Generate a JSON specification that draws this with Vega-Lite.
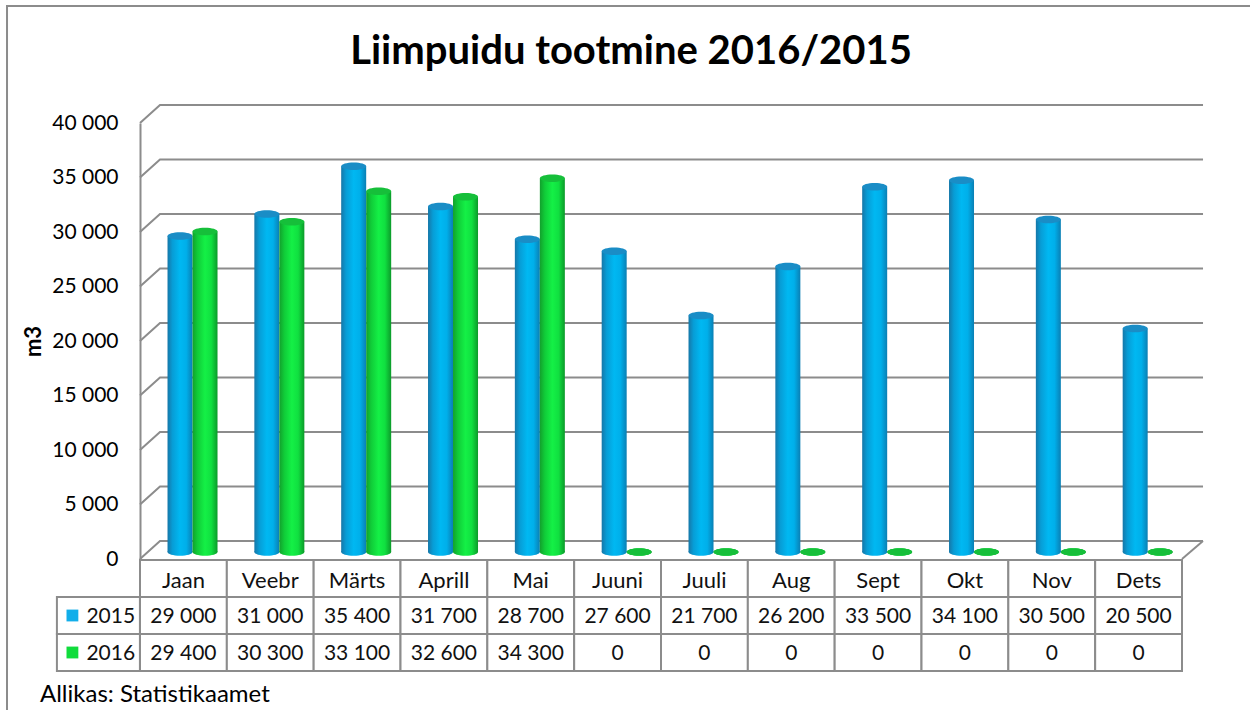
{
  "$schema": "https://vega.github.io/schema/vega-lite/v6.json",
  "autosize": {"type": "none"},
  "padding": {"left": 140, "top": 123, "right": 1110, "bottom": 587},
  "background": "white",
  "config": {
    "font": "Lato",
    "view": {"stroke": null}
  },
  "data": {
    "values": [
      {"month": "Jaan", "year": "2015", "value": 29000},
      {"month": "Veebr", "year": "2015", "value": 31000},
      {"month": "Märts", "year": "2015", "value": 35400},
      {"month": "Aprill", "year": "2015", "value": 31700},
      {"month": "Mai", "year": "2015", "value": 28700},
      {"month": "Juuni", "year": "2015", "value": 27600},
      {"month": "Juuli", "year": "2015", "value": 21700},
      {"month": "Aug", "year": "2015", "value": 26200},
      {"month": "Sept", "year": "2015", "value": 33500},
      {"month": "Okt", "year": "2015", "value": 34100},
      {"month": "Nov", "year": "2015", "value": 30500},
      {"month": "Dets", "year": "2015", "value": 20500},
      {"month": "Jaan", "year": "2016", "value": 29400},
      {"month": "Veebr", "year": "2016", "value": 30300},
      {"month": "Märts", "year": "2016", "value": 33100},
      {"month": "Aprill", "year": "2016", "value": 32600},
      {"month": "Mai", "year": "2016", "value": 34300},
      {"month": "Juuni", "year": "2016", "value": 0},
      {"month": "Juuli", "year": "2016", "value": 0},
      {"month": "Aug", "year": "2016", "value": 0},
      {"month": "Sept", "year": "2016", "value": 0},
      {"month": "Okt", "year": "2016", "value": 0},
      {"month": "Nov", "year": "2016", "value": 0},
      {"month": "Dets", "year": "2016", "value": 0}
    ]
  },
  "spacing": 1,
  "bounds": "flush",
  "vconcat": [
    {
      "width": 1042,
      "height": 436,
      "title": {
        "text": "Liimpuidu tootmine 2016/2015",
        "fontSize": 40,
        "fontWeight": "bold",
        "font": "Lato",
        "color": "#000000",
        "anchor": "middle",
        "frame": "group",
        "dx": -30,
        "offset": 29
      },
      "layer": [
        {
          "data": {"values": [{"g": 0}, {"g": 5000}, {"g": 10000}, {"g": 15000}, {"g": 20000}, {"g": 25000}, {"g": 30000}, {"g": 35000}, {"g": 40000}]},
          "transform": [{"calculate": "'Jaan'", "as": "m"}],
          "mark": {"type": "point", "shape": "M -43.42 0 L -23.42 -18 L 1019.6 -18", "size": 4, "filled": true, "fill": "transparent", "stroke": "#8c8c8c", "strokeWidth": 2, "opacity": 1},
          "encoding": {
            "x": {"field": "m", "type": "nominal", "axis": null},
            "y": {
              "field": "g",
              "type": "quantitative",
              "scale": {"domain": [0, 40000], "nice": false, "zero": true},
              "axis": {"title": "m3", "values": [0, 5000, 10000, 15000, 20000, 25000, 30000, 35000, 40000], "labelExpr": "replace(format(datum.value, ',d'), ',', ' ')", "grid": false, "ticks": false, "tickSize": 0, "domainColor": "#8c8c8c", "domainWidth": 2, "labelFont": "Lato", "labelFontSize": 21, "labelColor": "#000000", "labelPadding": 22, "titleFont": "Lato", "titleFontSize": 22, "titleFontWeight": "bold", "titleColor": "#000000", "titlePadding": 6}
            }
          }
        },
        {
          "data": {"values": [{"g": 0}]},
          "transform": [{"calculate": "'Dets'", "as": "m"}],
          "mark": {"type": "point", "shape": "M 43.42 0 L 64.4 -18", "size": 4, "filled": true, "fill": "transparent", "stroke": "#8c8c8c", "strokeWidth": 2, "opacity": 1},
          "encoding": {
            "x": {"field": "m", "type": "nominal", "axis": null},
            "y": {"field": "g", "type": "quantitative", "axis": {"title": "m3", "values": [0, 5000, 10000, 15000, 20000, 25000, 30000, 35000, 40000], "labelExpr": "replace(format(datum.value, ',d'), ',', ' ')", "grid": false, "ticks": false, "tickSize": 0, "domainColor": "#8c8c8c", "domainWidth": 2, "labelFont": "Lato", "labelFontSize": 21, "labelColor": "#000000", "labelPadding": 22, "titleFont": "Lato", "titleFontSize": 22, "titleFontWeight": "bold", "titleColor": "#000000", "titlePadding": 6}}
          }
        },
        {
          "data": {"values": [{"g": 0}]},
          "transform": [{"calculate": "'Jaan'", "as": "m"}],
          "mark": {"type": "point", "shape": "M -176.4 110 L -176.4 152", "size": 4, "filled": true, "fill": "transparent", "stroke": "#8c8c8c", "strokeWidth": 2, "opacity": 1},
          "encoding": {
            "x": {"field": "m", "type": "nominal", "axis": null},
            "y": {"field": "g", "type": "quantitative", "axis": {"title": "m3", "values": [0, 5000, 10000, 15000, 20000, 25000, 30000, 35000, 40000], "labelExpr": "replace(format(datum.value, ',d'), ',', ' ')", "grid": false, "ticks": false, "tickSize": 0, "domainColor": "#8c8c8c", "domainWidth": 2, "labelFont": "Lato", "labelFontSize": 21, "labelColor": "#000000", "labelPadding": 22, "titleFont": "Lato", "titleFontSize": 22, "titleFontWeight": "bold", "titleColor": "#000000", "titlePadding": 6}}
          }
        },
        {
          "transform": [{"filter": "datum.year == '2015'"}, {"calculate": "0", "as": "base"}],
          "mark": {
            "type": "point",
            "shape": "M -1 0 A 1 0.3 0 1 1 1 0 A 1 0.3 0 1 1 -1 0 Z",
            "size": 625,
            "filled": true,
            "opacity": 1,
            "strokeWidth": 0,
            "xOffset": -3.4,
            "yOffset": -7,
            "fill": {"gradient": "linear", "x1": 0, "x2": 1, "y1": 0, "y2": 0, "stops": [
              {"offset": 0, "color": "#1677a8"}, {"offset": 0.2, "color": "#079dd6"},
              {"offset": 0.5, "color": "#00b8f2"}, {"offset": 0.75, "color": "#00afea"},
              {"offset": 1, "color": "#0a7fb4"}]}
          },
          "encoding": {
            "x": {"field": "month", "type": "nominal", "axis": null},
            "y": {"field": "base", "type": "quantitative", "axis": {"title": "m3", "values": [0, 5000, 10000, 15000, 20000, 25000, 30000, 35000, 40000], "labelExpr": "replace(format(datum.value, ',d'), ',', ' ')", "grid": false, "ticks": false, "tickSize": 0, "domainColor": "#8c8c8c", "domainWidth": 2, "labelFont": "Lato", "labelFontSize": 21, "labelColor": "#000000", "labelPadding": 22, "titleFont": "Lato", "titleFontSize": 22, "titleFontWeight": "bold", "titleColor": "#000000", "titlePadding": 6}}
          }
        },
        {
          "transform": [{"filter": "datum.year == '2015'"}],
          "mark": {
            "type": "bar",
            "width": 25,
            "xOffset": -3.4,
            "yOffset": -7,
            "y2Offset": -7,
            "color": {"gradient": "linear", "x1": 0, "x2": 1, "y1": 0, "y2": 0, "stops": [
              {"offset": 0, "color": "#1677a8"}, {"offset": 0.2, "color": "#079dd6"},
              {"offset": 0.5, "color": "#00b8f2"}, {"offset": 0.75, "color": "#00afea"},
              {"offset": 1, "color": "#0a7fb4"}]}
          },
          "encoding": {
            "x": {
              "field": "month",
              "type": "nominal",
              "scale": {"domain": ["Jaan", "Veebr", "Märts", "Aprill", "Mai", "Juuni", "Juuli", "Aug", "Sept", "Okt", "Nov", "Dets"], "paddingInner": 0, "paddingOuter": 0},
              "axis": null
            },
            "y": {"field": "value", "type": "quantitative", "axis": {"title": "m3", "values": [0, 5000, 10000, 15000, 20000, 25000, 30000, 35000, 40000], "labelExpr": "replace(format(datum.value, ',d'), ',', ' ')", "grid": false, "ticks": false, "tickSize": 0, "domainColor": "#8c8c8c", "domainWidth": 2, "labelFont": "Lato", "labelFontSize": 21, "labelColor": "#000000", "labelPadding": 22, "titleFont": "Lato", "titleFontSize": 22, "titleFontWeight": "bold", "titleColor": "#000000", "titlePadding": 6}}
          }
        },
        {
          "transform": [{"filter": "datum.year == '2015'"}],
          "mark": {
            "type": "point",
            "shape": "M -1 0 A 1 0.3 0 1 1 1 0 A 1 0.3 0 1 1 -1 0 Z",
            "size": 625,
            "filled": true,
            "opacity": 1,
            "strokeWidth": 0,
            "xOffset": -3.4,
            "yOffset": -7,
            "fill": "#1a8dc6"
          },
          "encoding": {
            "x": {"field": "month", "type": "nominal", "axis": null},
            "y": {"field": "value", "type": "quantitative", "axis": {"title": "m3", "values": [0, 5000, 10000, 15000, 20000, 25000, 30000, 35000, 40000], "labelExpr": "replace(format(datum.value, ',d'), ',', ' ')", "grid": false, "ticks": false, "tickSize": 0, "domainColor": "#8c8c8c", "domainWidth": 2, "labelFont": "Lato", "labelFontSize": 21, "labelColor": "#000000", "labelPadding": 22, "titleFont": "Lato", "titleFontSize": 22, "titleFontWeight": "bold", "titleColor": "#000000", "titlePadding": 6}}
          }
        },
        {
          "transform": [{"filter": "datum.year == '2016'"}, {"calculate": "0", "as": "base"}],
          "mark": {
            "type": "point",
            "shape": "M -1 0 A 1 0.3 0 1 1 1 0 A 1 0.3 0 1 1 -1 0 Z",
            "size": 625,
            "filled": true,
            "opacity": 1,
            "strokeWidth": 0,
            "xOffset": 21.6,
            "yOffset": -7,
            "fill": {"gradient": "linear", "x1": 0, "x2": 1, "y1": 0, "y2": 0, "stops": [
              {"offset": 0, "color": "#12a02c"}, {"offset": 0.2, "color": "#10cc38"},
              {"offset": 0.5, "color": "#14f046"}, {"offset": 0.75, "color": "#10e040"},
              {"offset": 1, "color": "#0c9a2a"}]}
          },
          "encoding": {
            "x": {"field": "month", "type": "nominal", "axis": null},
            "y": {"field": "base", "type": "quantitative", "axis": {"title": "m3", "values": [0, 5000, 10000, 15000, 20000, 25000, 30000, 35000, 40000], "labelExpr": "replace(format(datum.value, ',d'), ',', ' ')", "grid": false, "ticks": false, "tickSize": 0, "domainColor": "#8c8c8c", "domainWidth": 2, "labelFont": "Lato", "labelFontSize": 21, "labelColor": "#000000", "labelPadding": 22, "titleFont": "Lato", "titleFontSize": 22, "titleFontWeight": "bold", "titleColor": "#000000", "titlePadding": 6}}
          }
        },
        {
          "transform": [{"filter": "datum.year == '2016'"}],
          "mark": {
            "type": "bar",
            "width": 25,
            "xOffset": 21.6,
            "yOffset": -7,
            "y2Offset": -7,
            "color": {"gradient": "linear", "x1": 0, "x2": 1, "y1": 0, "y2": 0, "stops": [
              {"offset": 0, "color": "#12a02c"}, {"offset": 0.2, "color": "#10cc38"},
              {"offset": 0.5, "color": "#14f046"}, {"offset": 0.75, "color": "#10e040"},
              {"offset": 1, "color": "#0c9a2a"}]}
          },
          "encoding": {
            "x": {"field": "month", "type": "nominal", "axis": null},
            "y": {"field": "value", "type": "quantitative", "axis": {"title": "m3", "values": [0, 5000, 10000, 15000, 20000, 25000, 30000, 35000, 40000], "labelExpr": "replace(format(datum.value, ',d'), ',', ' ')", "grid": false, "ticks": false, "tickSize": 0, "domainColor": "#8c8c8c", "domainWidth": 2, "labelFont": "Lato", "labelFontSize": 21, "labelColor": "#000000", "labelPadding": 22, "titleFont": "Lato", "titleFontSize": 22, "titleFontWeight": "bold", "titleColor": "#000000", "titlePadding": 6}}
          }
        },
        {
          "transform": [{"filter": "datum.year == '2016'"}],
          "mark": {
            "type": "point",
            "shape": "M -1 0 A 1 0.3 0 1 1 1 0 A 1 0.3 0 1 1 -1 0 Z",
            "size": 625,
            "filled": true,
            "opacity": 1,
            "strokeWidth": 0,
            "xOffset": 21.6,
            "yOffset": -7,
            "fill": "#16bf3a"
          },
          "encoding": {
            "x": {"field": "month", "type": "nominal", "axis": null},
            "y": {"field": "value", "type": "quantitative", "axis": {"title": "m3", "values": [0, 5000, 10000, 15000, 20000, 25000, 30000, 35000, 40000], "labelExpr": "replace(format(datum.value, ',d'), ',', ' ')", "grid": false, "ticks": false, "tickSize": 0, "domainColor": "#8c8c8c", "domainWidth": 2, "labelFont": "Lato", "labelFontSize": 21, "labelColor": "#000000", "labelPadding": 22, "titleFont": "Lato", "titleFontSize": 22, "titleFontWeight": "bold", "titleColor": "#000000", "titlePadding": 6}}
          }
        }
      ]
    },
    {
      "width": 1042,
      "height": 111,
      "title": {
        "text": "Allikas: Statistikaamet",
        "orient": "bottom",
        "anchor": "start",
        "frame": "group",
        "dx": -100,
        "offset": 8,
        "fontSize": 24,
        "fontWeight": "normal",
        "font": "Lato",
        "color": "#000000"
      },
      "transform": [
        {"calculate": "'hdr'", "as": "hdr"},
        {"calculate": "replace(format(datum.value, ',d'), ',', ' ')", "as": "label"}
      ],
      "layer": [
        {
          "transform": [{"filter": "datum.year == '2015'"}],
          "mark": {"type": "rect", "fill": "white", "stroke": "#8c8c8c", "strokeWidth": 2},
          "encoding": {
            "x": {
              "field": "month",
              "type": "nominal",
              "scale": {"domain": ["Jaan", "Veebr", "Märts", "Aprill", "Mai", "Juuni", "Juuli", "Aug", "Sept", "Okt", "Nov", "Dets"], "paddingInner": 0, "paddingOuter": 0},
              "axis": null
            },
            "y": {
              "field": "hdr",
              "type": "nominal",
              "scale": {"domain": ["hdr", "2015", "2016"], "paddingInner": 0, "paddingOuter": 0},
              "axis": null
            }
          }
        },
        {
          "mark": {"type": "rect", "fill": "white", "stroke": "#8c8c8c", "strokeWidth": 2},
          "encoding": {
            "x": {"field": "month", "type": "nominal", "axis": null},
            "y": {"field": "year", "type": "nominal", "axis": null}
          }
        },
        {
          "transform": [{"filter": "datum.month == 'Jaan'"}],
          "mark": {"type": "point", "shape": "M -41.5 -18.5 L 41.5 -18.5 L 41.5 18.5 L -41.5 18.5 Z", "size": 4, "filled": true, "fill": "white", "stroke": "#8c8c8c", "strokeWidth": 2, "opacity": 1, "xOffset": -85},
          "encoding": {
            "x": {"field": "month", "type": "nominal", "axis": null},
            "y": {"field": "year", "type": "nominal", "axis": null}
          }
        },
        {
          "transform": [{"filter": "datum.month == 'Jaan' && datum.year == '2016'"}],
          "mark": {"type": "point", "shape": "M -176.4 18 L -176.4 -646.5 L 1070 -646.5", "size": 4, "filled": true, "fill": "transparent", "stroke": "#8c8c8c", "strokeWidth": 2, "opacity": 1},
          "encoding": {
            "x": {"field": "month", "type": "nominal", "axis": null},
            "y": {"field": "year", "type": "nominal", "axis": null}
          }
        },
        {
          "transform": [{"filter": "datum.year == '2015'"}],
          "mark": {"type": "text", "fontSize": 22, "color": "#111111", "dy": 2, "baseline": "middle"},
          "encoding": {
            "x": {"field": "month", "type": "nominal", "axis": null},
            "y": {"field": "hdr", "type": "nominal", "axis": null},
            "text": {"field": "month"}
          }
        },
        {
          "mark": {"type": "text", "fontSize": 21, "color": "#111111", "dy": 1, "baseline": "middle"},
          "encoding": {
            "x": {"field": "month", "type": "nominal", "axis": null},
            "y": {"field": "year", "type": "nominal", "axis": null},
            "text": {"field": "label"}
          }
        },
        {
          "transform": [{"filter": "datum.month == 'Jaan' && datum.year == '2015'"}],
          "mark": {"type": "point", "shape": "square", "size": 140, "filled": true, "opacity": 1, "color": "#12aeea", "xOffset": -111},
          "encoding": {
            "x": {"field": "month", "type": "nominal", "axis": null},
            "y": {"field": "year", "type": "nominal", "axis": null}
          }
        },
        {
          "transform": [{"filter": "datum.month == 'Jaan' && datum.year == '2016'"}],
          "mark": {"type": "point", "shape": "square", "size": 140, "filled": true, "opacity": 1, "color": "#10dc3c", "xOffset": -111},
          "encoding": {
            "x": {"field": "month", "type": "nominal", "axis": null},
            "y": {"field": "year", "type": "nominal", "axis": null}
          }
        },
        {
          "transform": [{"filter": "datum.month == 'Jaan'"}],
          "mark": {"type": "text", "fontSize": 21, "color": "#111111", "align": "left", "xOffset": -97, "dy": 1, "baseline": "middle"},
          "encoding": {
            "x": {"field": "month", "type": "nominal", "axis": null},
            "y": {"field": "year", "type": "nominal", "axis": null},
            "text": {"field": "year"}
          }
        }
      ]
    }
  ]
}
